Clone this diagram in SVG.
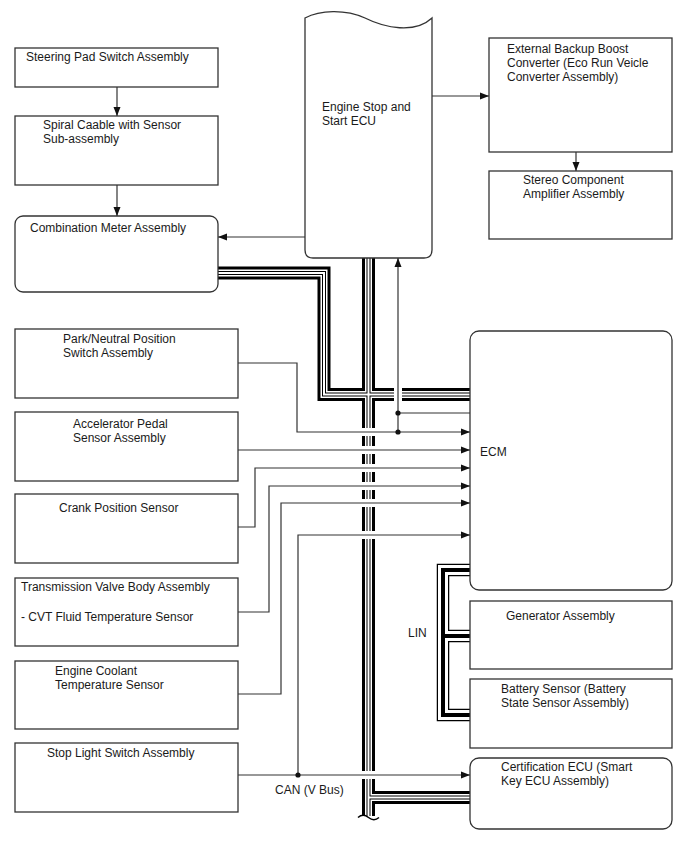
<svg xmlns="http://www.w3.org/2000/svg" width="688" height="852" viewBox="0 0 688 852">
<style>
.box{fill:#fff;stroke:#333;stroke-width:1.3}
.t{font-family:"Liberation Sans",Arial,sans-serif;font-size:12px;fill:#1a1a1a}
.w{fill:none;stroke:#333;stroke-width:1.2}
.wa{fill:none;stroke:#333;stroke-width:1.2;marker-end:url(#ah)}
.halo{fill:none;stroke:#fff;stroke-width:8}
.b1{fill:none;stroke:#000;stroke-width:13}
.b2{fill:none;stroke:#fff;stroke-width:7}
.b3{fill:none;stroke:#000;stroke-width:4}
.b4{fill:none;stroke:#fff;stroke-width:2}
.l1{fill:none;stroke:#000;stroke-width:12.5}
.l2{fill:none;stroke:#fff;stroke-width:10}
.l3{fill:none;stroke:#000;stroke-width:4}
</style>
<defs>
<marker id="ah" markerWidth="10" markerHeight="8" refX="9" refY="4" orient="auto" markerUnits="userSpaceOnUse"><path d="M0,0.5 L9,4 L0,7.5 Z" fill="#111"/></marker>
<path id="mainbus" d="M218,273 H324 V394.5 H470 M368.5,258 V816 M368.5,797.5 H470"/>
<path id="linbus" d="M470,570 H443 V715 H470 M443,636 H470"/>
</defs>
<g id="connectors">
<use href="#mainbus" class="b1"/>
<use href="#mainbus" class="b2"/>
<use href="#mainbus" class="b3"/>
<use href="#mainbus" class="b4"/>
<path d="M358,817.5 Q363,813 368.5,817.5 Q374,822 379,817.5" fill="none" stroke="#000" stroke-width="1.5"/>
<use href="#linbus" class="l1"/>
<use href="#linbus" class="l2"/>
<use href="#linbus" class="l3"/>
<path class="halo" d="M357,432 H380 M357,450 H380 M357,468 H380 M357,486 H380 M357,503 H380 M357,535 H380 M357,775 H380 M398,385 V404"/>
<path class="wa" d="M117,87 V116"/>
<path class="wa" d="M117,185 V216"/>
<path class="wa" d="M305,237 H218"/>
<path class="wa" d="M432,96 H489"/>
<path class="wa" d="M576,152 V171"/>
<path class="wa" d="M238,363 H297 V432 H470"/>
<path class="wa" d="M398,432 V258"/>
<path class="w" d="M398,413 H470"/>
<path class="wa" d="M238,450 H470"/>
<path class="wa" d="M238,527 H255 V468 H470"/>
<path class="wa" d="M238,612 H269 V486 H470"/>
<path class="wa" d="M238,694 H281 V503 H470"/>
<path class="wa" d="M238,775 H470"/>
<path class="wa" d="M298,775 V535 H470"/>
<circle cx="398" cy="413" r="2.6" fill="#111"/>
<circle cx="398" cy="432" r="2.6" fill="#111"/>
<circle cx="298" cy="775" r="2.6" fill="#111"/>
<text class="t" x="275" y="794">CAN (V Bus)</text>
<text class="t" x="408" y="637">LIN</text>
</g>
<g id="steering"><rect class="box" x="15" y="48" width="203" height="39"/><text class="t" x="26" y="61">Steering Pad Switch Assembly</text></g>
<g id="spiral"><rect class="box" x="15" y="116" width="203" height="69"/><text class="t" x="43" y="129">Spiral Caable with Sensor</text><text class="t" x="43" y="143">Sub-assembly</text></g>
<g id="meter"><rect class="box" x="15" y="216" width="203" height="76" rx="8"/><text class="t" x="30" y="232">Combination Meter Assembly</text></g>
<g id="ecu"><path class="box" d="M305,18 C320,10 345,9 365,18 C385,28 415,34 432,18 V250 Q432,258 424,258 H313 Q305,258 305,250 Z"/><text class="t" x="322" y="111">Engine Stop and</text><text class="t" x="322" y="125">Start ECU</text></g>
<g id="external"><rect class="box" x="489" y="38" width="183" height="114"/><text class="t" x="507" y="53">External Backup Boost</text><text class="t" x="507" y="67">Converter (Eco Run Veicle</text><text class="t" x="507" y="81">Converter Assembly)</text></g>
<g id="stereo"><rect class="box" x="489" y="171" width="183" height="68"/><text class="t" x="523" y="184">Stereo Component</text><text class="t" x="523" y="198">Amplifier Assembly</text></g>
<g id="park"><rect class="box" x="15" y="329" width="223" height="69"/><text class="t" x="63" y="343">Park/Neutral Position</text><text class="t" x="63" y="357">Switch Assembly</text></g>
<g id="accel"><rect class="box" x="15" y="412" width="223" height="69"/><text class="t" x="73" y="428">Accelerator Pedal</text><text class="t" x="73" y="442">Sensor Assembly</text></g>
<g id="crank"><rect class="box" x="15" y="494" width="223" height="69"/><text class="t" x="59" y="512">Crank Position Sensor</text></g>
<g id="trans"><rect class="box" x="15" y="578" width="223" height="68"/><text class="t" x="21" y="591">Transmission Valve Body Assembly</text><text class="t" x="21" y="621">- CVT Fluid Temperature Sensor</text></g>
<g id="coolant"><rect class="box" x="15" y="661" width="223" height="68"/><text class="t" x="55" y="675">Engine Coolant</text><text class="t" x="55" y="689">Temperature Sensor</text></g>
<g id="stoplight"><rect class="box" x="15" y="743" width="223" height="69"/><text class="t" x="47" y="757">Stop Light Switch Assembly</text></g>
<g id="ecm"><rect class="box" x="470" y="331" width="202" height="259" rx="9"/><text class="t" x="480" y="456">ECM</text></g>
<g id="generator"><rect class="box" x="470" y="601" width="202" height="68"/><text class="t" x="506" y="620">Generator Assembly</text></g>
<g id="battery"><rect class="box" x="470" y="679" width="202" height="69"/><text class="t" x="501" y="693">Battery Sensor (Battery</text><text class="t" x="501" y="707">State Sensor Assembly)</text></g>
<g id="cert"><rect class="box" x="470" y="758" width="202" height="71" rx="9"/><text class="t" x="501" y="771">Certification ECU (Smart</text><text class="t" x="501" y="785">Key ECU Assembly)</text></g>
</svg>
